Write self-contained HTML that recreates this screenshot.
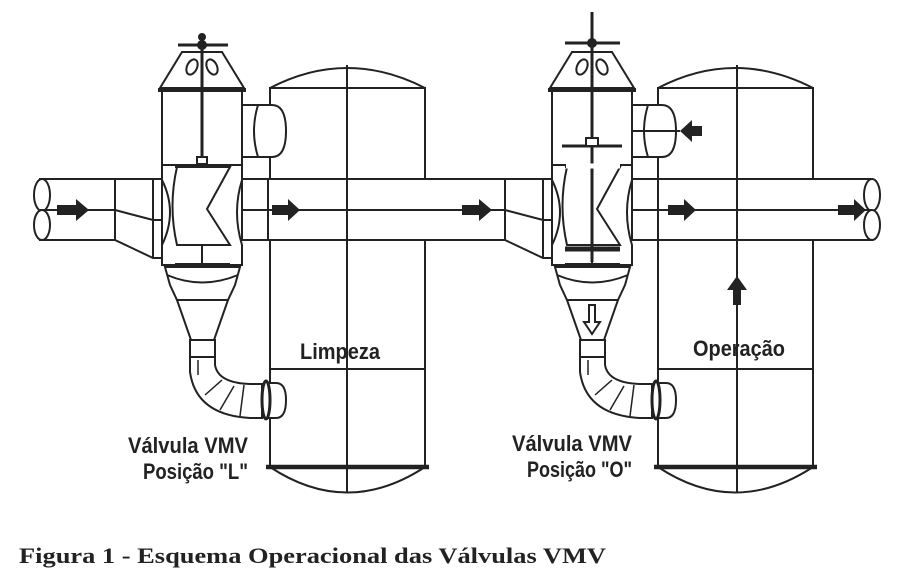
<!DOCTYPE html>
<html><head><meta charset="utf-8"><style>
html,body{margin:0;padding:0;background:#fff;}
svg{display:block;}
.t{font-family:"Liberation Sans",sans-serif;font-weight:bold;fill:#222;}
</style></head><body>
<svg width="900" height="580" viewBox="0 0 900 580" xmlns="http://www.w3.org/2000/svg">
<defs>
<g id="tank">
  <path d="M270,88 Q347,48 425,88" fill="none" stroke="#222" stroke-width="2"/>
  <rect x="270" y="88" width="155" height="379" fill="#fff" stroke="#222" stroke-width="2"/>
  <line x1="270" y1="369" x2="425" y2="369" stroke="#222" stroke-width="2"/>
  <path d="M270,467 Q347,518 425,467" fill="none" stroke="#222" stroke-width="2"/>
  <line x1="266" y1="467" x2="429" y2="467" stroke="#222" stroke-width="4.5"/>
</g>
<g id="valve" fill="#fff" stroke="#222" stroke-width="2">
  <polygon points="182,52 222,52 244,88 160,88"/>
  <ellipse cx="192" cy="67" rx="5" ry="8" transform="rotate(25 192 67)"/>
  <ellipse cx="212" cy="67" rx="5" ry="8" transform="rotate(-25 212 67)"/>
  <rect x="162" y="90" width="80" height="75"/>
  <line x1="158" y1="90" x2="246" y2="90" stroke-width="4"/>
  <rect x="242" y="105" width="20" height="52"/>
  <path d="M258,105 L272,105 Q286,105 286,131 Q286,157 272,157 L258,157"/>
  <path d="M258,105 Q250,131 258,157" fill="none"/>
  <path d="M162,165 L242,165 L242,180 Q232,212 242,245 L242,265 L162,265 L162,245 Q178,212 162,180 Z"/>
  <path d="M177,167 L230,167 L207,209 L230,245 L177,245 Q168,206 177,167 Z"/>
  <line x1="175" y1="166" x2="230" y2="166" stroke-width="4"/>
  <line x1="175" y1="265" x2="230" y2="265" stroke-width="4"/>
  <line x1="202" y1="245" x2="202" y2="265"/>
  <path d="M165,267 L240,267 L235,285 L228,300 L177,300 L170,285 Z"/>
  <path d="M167,275 Q202,290 238,275" fill="none"/>
  <polygon points="177,300 228,300 214,340 191,340"/>
  <rect x="190" y="340" width="25" height="17"/>
  <path d="M190,357 L190,372 Q196,415 250,418 L262,418 L262,384 L250,384 Q218,383 215,365 L215,357 Z"/>
  <path d="M198,360 L198,375 M205,395 L222,380 M220,410 L234,386 M240,416 L244,385" fill="none" stroke-width="1.5"/>
  <path d="M264,383 L276,383 Q286,383 286,400 Q286,418 276,418 L264,418"/>
  <ellipse cx="266" cy="400" rx="4" ry="19" stroke-width="3"/>
</g>
</defs>

<use href="#tank"/>
<use href="#tank" transform="translate(388,0)"/>

<g fill="#fff" stroke="#222" stroke-width="2">
  <rect x="40" y="179" width="75" height="61"/>
  <ellipse cx="42" cy="195" rx="8" ry="16"/>
  <ellipse cx="42" cy="225" rx="8" ry="15"/>
  <path d="M115,179 L162,179 L162,258 L153,258 L115,240 Z"/>
  <line x1="153" y1="179" x2="153" y2="258"/>
  <path d="M115,210 L153,220 L162,220" fill="none"/>
  <rect x="242" y="179" width="263" height="61"/>
  <path d="M505,179 L552,179 L552,258 L543,258 L505,240 Z"/>
  <line x1="543" y1="179" x2="543" y2="258"/>
  <path d="M505,210 L543,220 L552,220" fill="none"/>
  <rect x="632" y="179" width="240" height="61"/>
  <line x1="658" y1="179" x2="658" y2="240"/>
  <ellipse cx="872" cy="195" rx="8" ry="16"/>
  <ellipse cx="872" cy="225" rx="8" ry="15"/>
  <line x1="268" y1="179" x2="268" y2="240"/>
</g>
<line x1="40" y1="210" x2="115" y2="210" stroke="#222" stroke-width="2"/>
<line x1="242" y1="210" x2="505" y2="210" stroke="#222" stroke-width="2"/>
<line x1="632" y1="210" x2="872" y2="210" stroke="#222" stroke-width="2"/>
<line x1="347" y1="65" x2="347" y2="492" stroke="#222" stroke-width="2"/>
<line x1="737" y1="65" x2="737" y2="492" stroke="#222" stroke-width="2"/>

<use href="#valve"/>
<use href="#valve" transform="translate(390,0)"/>

<g stroke="#222" stroke-width="2">
  <line x1="202" y1="40" x2="202" y2="158" stroke-width="3"/>
  <line x1="178" y1="45" x2="228" y2="45" stroke-width="3"/>
  <circle cx="202" cy="45" r="4" fill="#222"/>
  <circle cx="202" cy="37" r="3" fill="#222"/>
  <rect x="197" y="157" width="10" height="7" fill="#fff"/>
</g>
<g stroke="#222" stroke-width="2">
  <line x1="592" y1="12" x2="592" y2="262" stroke-width="3"/>
  <line x1="565" y1="43" x2="620" y2="43" stroke-width="3"/>
  <circle cx="592" cy="43" r="4" fill="#222"/>
  <line x1="562" y1="146" x2="622" y2="146" stroke-width="3"/>
  <rect x="586" y="138" width="12" height="8" fill="#fff"/>
  <line x1="566" y1="166" x2="620" y2="166" stroke="#fff" stroke-width="5"/>
  <line x1="565" y1="249" x2="620" y2="249" stroke-width="5"/>
  <line x1="632" y1="131" x2="680" y2="131"/>
</g>

<g fill="#222">
  <path d="M57,205 L76,205 L76,199 L89,210 L76,221 L76,215 L57,215 Z"/>
  <path d="M272,205 L288,205 L288,199 L300,210 L288,221 L288,215 L272,215 Z"/>
  <path d="M462,205 L479,205 L479,199 L492,210 L479,221 L479,215 L462,215 Z"/>
  <path d="M668,205 L684,205 L684,199 L696,210 L684,221 L684,215 L668,215 Z"/>
  <path d="M838,205 L854,205 L854,199 L866,210 L854,221 L854,215 L838,215 Z"/>
  <path d="M702,126 L692,126 L692,120 L680,131 L692,142 L692,136 L702,136 Z"/>
  <path d="M733,305 L733,290 L727,290 L737,276 L747,290 L741,290 L741,305 Z"/>
</g>
<path d="M589,305 L595,305 L595,322 L600,322 L592,334 L584,322 L589,322 Z" fill="#fff" stroke="#222" stroke-width="2"/>

<text class="t" x="300" y="359" font-size="22" textLength="80" lengthAdjust="spacingAndGlyphs">Limpeza</text>
<text class="t" x="693" y="356" font-size="22" textLength="92" lengthAdjust="spacingAndGlyphs">Operação</text>
<text class="t" x="128" y="453" font-size="22" textLength="120" lengthAdjust="spacingAndGlyphs">Válvula VMV</text>
<text class="t" x="143" y="479" font-size="22" textLength="105" lengthAdjust="spacingAndGlyphs">Posição "L"</text>
<text class="t" x="512" y="451" font-size="22" textLength="120" lengthAdjust="spacingAndGlyphs">Válvula VMV</text>
<text class="t" x="527" y="477" font-size="22" textLength="105" lengthAdjust="spacingAndGlyphs">Posição "O"</text>
<text x="19" y="563" font-family="Liberation Serif, serif" font-weight="bold" font-size="22" fill="#222" textLength="587" lengthAdjust="spacingAndGlyphs">Figura 1 - Esquema Operacional das Válvulas VMV</text>
</svg>
</body></html>
